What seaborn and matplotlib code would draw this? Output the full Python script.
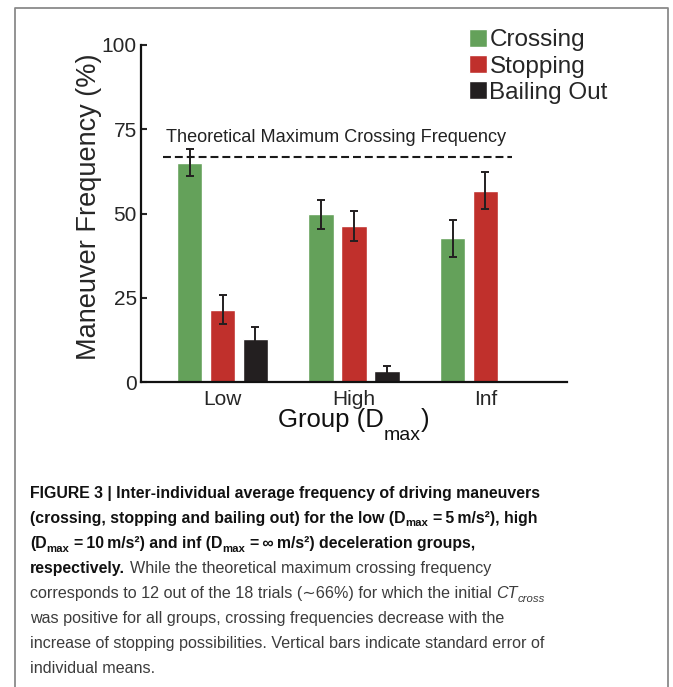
import matplotlib
matplotlib.use("Agg")
import matplotlib.pyplot as plt
import numpy as np
import pandas as pd
import seaborn as sns
from matplotlib import font_manager
from matplotlib.lines import Line2D
from matplotlib.transforms import IdentityTransform

groups = ["Low", "High", "Inf"]
maneuvers = ["Crossing", "Stopping", "Bailing Out"]
crossing = [65.1, 49.8, 42.6]
stopping = [21.5, 46.3, 56.8]
bailing = [12.7, 3.2, 0.2]
crossing_se = [4.0, 4.3, 5.6]
stopping_se = [4.2, 4.4, 5.5]
bailing_se = [3.7, 1.5, 0.0]
theoretical_max = 66.67
colors = ["#64A15A", "#C0302C", "#231F20"]

df = pd.DataFrame({
    "Group": groups * 3,
    "Maneuver": np.repeat(maneuvers, len(groups)),
    "Value": crossing + stopping + bailing,
})

sns.set_style("ticks")
plt.rcParams["font.family"] = ["Liberation Sans", "DejaVu Sans"]


def has_font(name):
    try:
        font_manager.findfont(name, fallback_to_default=False)
        return True
    except ValueError:
        return False


W, H = 673, 687
fig = plt.figure(figsize=(W / 100, H / 100), dpi=100)
ax = fig.add_axes([141 / W, 1 - 382 / H, (567 - 141) / W, (382 - 45) / H])

sns.barplot(data=df, x="Group", y="Value", hue="Maneuver", order=groups,
            hue_order=maneuvers, palette=colors, saturation=1, width=0.75,
            gap=0.22, errorbar=None, ax=ax)

# standard error bars on top of each bar
for cont, se in zip(ax.containers, [crossing_se, stopping_se, bailing_se]):
    for bar, e in zip(cont, se):
        if e > 0:
            ax.errorbar(bar.get_x() + bar.get_width() / 2, bar.get_height(),
                        yerr=e, color="#231F20", capsize=3, elinewidth=1.4,
                        capthick=1.4)

ax.hlines(theoretical_max, -0.45, 2.205, colors="#1a1a1a", lw=1.5,
          linestyles=(0, (3.8, 1.9)))
ax.text(-0.428, 72.6, "Theoretical Maximum Crossing Frequency", va="center",
        ha="left", fontsize=13.1, color="#222")

ax.set_xlim(-0.62, 2.62)
ax.set_ylim(0, 100)
ax.set_yticks([0, 25, 50, 75, 100])
ax.tick_params(axis="x", length=0, labelsize=15, pad=6)
ax.tick_params(axis="y", direction="in", length=4, width=1.5, labelsize=15,
               pad=3)
for s in ["top", "right"]:
    ax.spines[s].set_visible(False)
for s in ["left", "bottom"]:
    ax.spines[s].set_linewidth(1.6)
    ax.spines[s].set_color("#111")

ax.set_ylabel("Maneuver Frequency (%)", fontsize=19.5)
ax.yaxis.set_label_coords(-0.0915, 0.52)
ax.set_xlabel("")

handles, labels = ax.get_legend_handles_labels()
ax.legend(handles, labels, loc="upper left",
          bbox_to_anchor=(469 / W, 1 - 29 / H), bbox_transform=fig.transFigure,
          frameon=False, fontsize=17.5, handlelength=0.74, handleheight=0.74,
          handletextpad=0.1, labelspacing=0.16, borderpad=0, borderaxespad=0)

# page frame
fig.add_artist(Line2D([15, 15, 668, 668], [-5, H - 8, H - 8, -5],
                      transform=IdentityTransform(), color="#8a8a8a", lw=1.3))

renderer = fig.canvas.get_renderer()


def text_w(s, st):
    st = {k: v for k, v in st.items() if k != "dy"}
    t = fig.text(0, 0, s, transform=IdentityTransform(), **st)
    w = t.get_window_extent(renderer).width
    t.remove()
    return w


def put_line(x, y, segs):
    for txt, st, sp in segs:
        if sp:
            x += text_w("a a", st) - text_w("aa", st)
        kw = {k: v for k, v in st.items() if k != "dy"}
        t = fig.text(x, y + st.get("dy", 0), txt, transform=IdentityTransform(),
                     va="baseline", ha="left", **kw)
        x = t.get_window_extent(renderer).x1


# x axis label with a large subscript
X = dict(fontsize=18.5, color="#111")
Xs = dict(fontsize=14, color="#111", dy=-13)
put_line(278, H - 427, [("Group (D", X, False), ("max", Xs, False), (")", X, False)])

# caption
narrow = "Liberation Sans Narrow" if has_font("Liberation Sans Narrow") else "Liberation Sans"
B = dict(fontsize=11.4, fontweight="bold", color="#111",
         fontfamily=[narrow, "Liberation Sans", "DejaVu Sans"])
Bs = dict(B, fontsize=8.2, dy=-3.5)
R = dict(fontsize=11.6, color="#3c3c3c", fontfamily=["Liberation Sans", "DejaVu Sans"])
I = dict(R, fontstyle="italic")
Is = dict(I, fontsize=8.2, dy=-3.5)

lines = [
    [("FIGURE 3 | Inter-individual average frequency of driving maneuvers", B, False)],
    [("(crossing, stopping and bailing out) for the low (D", B, False),
     ("max", Bs, False), ("=\u20095\u2009m/s\u00b2), high", B, True)],
    [("(D", B, False), ("max", Bs, False), ("=\u200910\u2009m/s\u00b2) and inf (D", B, True),
     ("max", Bs, False), ("=\u2009\u221e\u2009m/s\u00b2) deceleration groups,", B, True)],
    [("respectively.", B, False),
     ("While the theoretical maximum crossing frequency", R, True)],
    [("corresponds to 12 out of the 18 trials (\u223c66%) for which the initial", R, False),
     ("CT", I, True), ("cross", Is, False)],
    [("was positive for all groups, crossing frequencies decrease with the", R, False)],
    [("increase of stopping possibilities. Vertical bars indicate standard error of", R, False)],
    [("individual means.", R, False)],
]
for i, segs in enumerate(lines):
    put_line(30, H - 498 - 25 * i, segs)

fig.savefig("out.png", dpi=100)
